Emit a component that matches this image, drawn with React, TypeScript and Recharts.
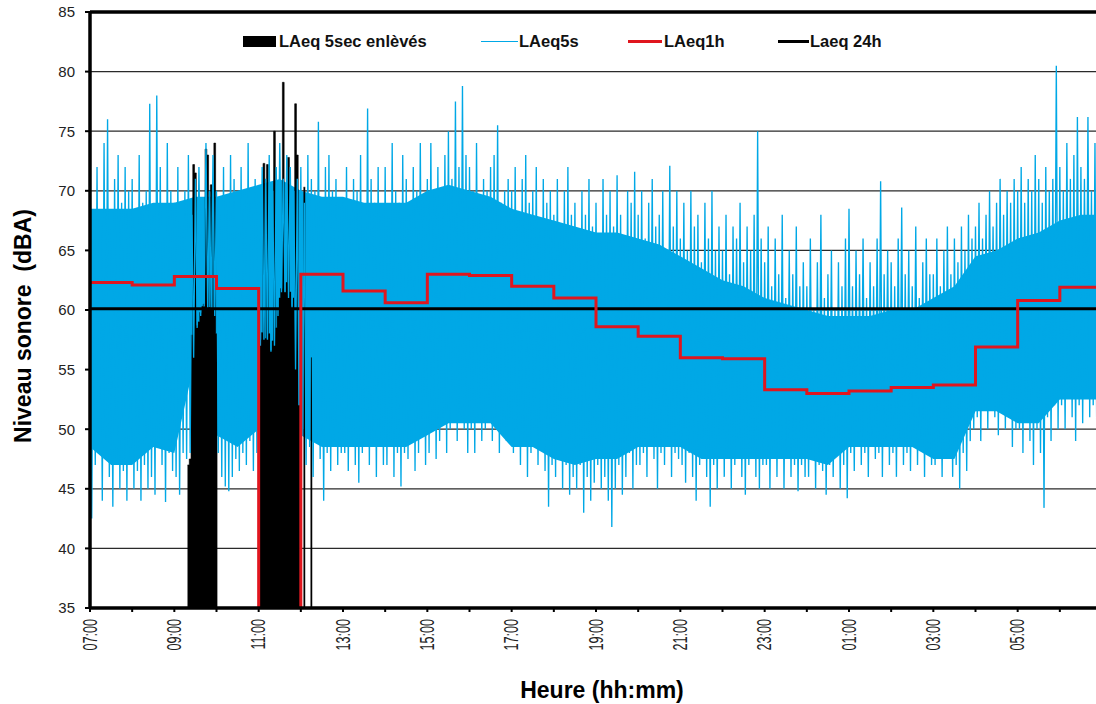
import React from "react"
import { ComposedChart, Line, Area, XAxis, YAxis, CartesianGrid, ReferenceLine } from "recharts"

const FONT = "'Liberation Sans', Arial, sans-serif"
const BLUE = "#00a8e6"
const RED = "#e0161e"

// tick labels
const hourLabels = [
  "07:00", "08:00", "09:00", "10:00", "11:00", "12:00", "13:00", "14:00", "15:00", "16:00", "17:00", "18:00",
  "19:00", "20:00", "21:00", "22:00", "23:00", "00:00", "01:00", "02:00", "03:00", "04:00", "05:00", "06:00", "07:00",
]
const dbTicks = [35, 40, 45, 50, 55, 60, 65, 70, 75, 80, 85]

// LAeq1h, one value per hour from 07:00 (11:00-12:00 removed -> drawn at 0)
const laeq1h = [62.3, 62.1, 62.8, 61.8, 0, 63.0, 61.6, 60.6, 63.0, 62.9, 62.0, 61.0, 58.6, 57.8, 56.0, 55.9, 53.3, 53.0, 53.2, 53.5, 53.7, 56.9, 60.8, 61.9]
const laeq24h = 60.1

// LAeq5s: peak value every 5 min (one row = one hour)
const las5sPeaks = [
  70, 66, 72, 68, 74, 76, 67, 71, 73, 69, 72, 70,
  71, 67, 73, 69, 70, 77.3, 68, 78, 72, 66, 74, 70,
  69, 72, 67, 70, 73, 68, 71, 72, 69, 74, 70, 73,
  70, 68, 72, 69, 73, 71, 67, 72, 70, 74, 69, 71,
  70, 72, 71, 73, 70, 72, 74, 71, 73, 72, 70, 71,
  72, 69, 73, 71, 70, 75.8, 68, 72, 73, 70, 71, 69,
  69, 72, 68, 71, 70, 73, 67, 76.9, 71, 69, 72, 68,
  72, 68, 74, 70, 69, 73, 71, 68, 72, 70, 74, 69,
  71, 74, 70, 72, 69, 73, 75, 71, 77.5, 72, 78.8, 73,
  72, 70, 74, 69, 71, 70, 72, 73, 75.5, 69, 70, 71,
  70, 72, 68, 71, 73, 69, 70, 72, 67, 71, 69, 70,
  68, 71, 67, 70, 72, 68, 69, 66, 70, 68, 71, 67,
  69, 66, 71, 68, 70, 67, 71.3, 68, 66, 70, 69, 71.6,
  68, 70, 66, 69, 71, 67, 68, 70, 65, 72.1, 67, 70,
  66, 69, 65, 70, 67, 68, 64, 69, 66, 70, 65, 67,
  65, 68, 63, 67, 66, 69, 64, 67, 65, 68, 75, 66,
  64, 67, 62, 66, 63, 68, 61, 65, 63, 67, 62, 64,
  62, 66, 60, 64, 68, 61, 63, 65, 60, 64, 62, 66,
  68.5, 62, 65, 63, 66, 61, 64, 62, 66, 70.8, 63, 65,
  64, 62, 66, 68.6, 63, 65, 62, 67, 61, 64, 66, 63,
  63, 66, 62, 65, 67, 63, 66, 64, 67, 65, 68, 66,
  67, 69, 66, 68, 70, 67, 69, 71, 68, 70, 69, 71,
  70, 72, 69, 71, 70, 73, 71, 69, 72, 70, 71, 80.5,
  72, 70, 74, 71, 73, 76.2, 72, 71, 76.2, 70, 74, 72,
]

// LAeq5s: trough value 2.5 min after each peak
const las5sTroughs = [
  42.5, 47, 49, 44, 48, 46, 43.5, 47, 45, 46.5, 44, 47,
  45, 46.5, 44, 47, 45, 46, 44.5, 49, 47, 43.9, 48, 46.5,
  46, 44.5, 48, 47.5, 48, 56, 58.5, 59.5, 60.3, 60, 60, 59.5,
  48, 46, 45.2, 44.8, 46, 47.5, 46.5, 48, 47, 49, 46.5, 48,
  57, 57.5, 57.5, 56.5, 57, 59.5, 61.5, 61.5, 61, 60, 55, 52,
  50, 47, 48.5, 46, 49, 47.5, 44, 48, 46.5, 49, 47, 48,
  48, 46.5, 49, 47, 45.5, 48, 50, 47, 49, 46, 48.5, 47,
  47, 49, 46, 48, 45.2, 48, 47.5, 49, 46.5, 48, 50, 47,
  48, 50, 47.5, 49, 51, 48, 50, 52, 49, 51, 50, 48,
  50, 48, 51, 49, 50, 52, 49, 51, 48, 50, 49, 51,
  48, 50, 47, 49, 46, 48, 50, 47, 49, 46.5, 43.5, 47,
  46, 48, 45, 47, 44.5, 46, 45, 47, 43, 46, 44, 45.5,
  47, 45, 46, 44, 41.8, 45, 47, 44.5, 46, 48, 45, 47,
  47, 48, 46, 49, 47.5, 45, 48, 47, 49, 46, 48, 47.5,
  47, 45.5, 48, 46, 44, 47, 48.5, 46, 43.5, 47, 45, 48,
  46, 48, 45, 47, 49, 46, 44.5, 47, 48, 46, 45, 47,
  47, 45, 48, 46, 47.5, 45, 48, 46, 47, 44.8, 47, 46,
  46, 48, 45, 47, 46.5, 44.5, 47, 46, 48, 45, 47, 44.2,
  48, 46.5, 49, 47, 48, 46, 49, 47.5, 48, 46, 49, 47,
  48, 46, 49, 47, 48, 46.5, 49, 47, 48.5, 46, 48, 47,
  47, 48.5, 46, 47.5, 48, 46, 47, 45, 48, 46.5, 49, 50,
  51, 49, 52, 50, 53, 51, 49.5, 52, 50, 51, 48.5, 50,
  50, 48, 51, 49, 47, 50, 48, 43.4, 51, 49, 52, 50,
  52, 50, 53, 51, 49, 52, 50.5, 53, 51, 52, 50, 53,
]

// dense core of the LAeq5s trace, every 30 min
const bandTop = [68.5, 68.5, 68.5, 69, 69, 69.5, 69.5, 70, 70.5, 71, 70, 69.5, 69.5, 69, 69, 69, 70, 70.5, 70, 69.5, 68.5, 68, 67.5, 67, 66.5, 66.5, 66, 65.5, 64.5, 63.5, 62.5, 62, 61, 60.5, 60, 59.5, 59.5, 59.5, 60, 60, 61, 62, 64.5, 65, 66, 66.5, 67.5, 68, 68]
const bandBottom = [48.5, 47, 47, 48.5, 48, 56, 49.5, 48.5, 50, 56, 49.5, 48.5, 48.5, 48.5, 48.5, 48.5, 49.5, 50.5, 50.5, 50.5, 48.5, 48.5, 47.5, 47, 47.5, 47.5, 48.5, 48.5, 48.5, 47.5, 47.5, 47.5, 47.5, 47.5, 47.5, 47, 48.5, 48.5, 48.5, 48.5, 47.5, 47.5, 51.5, 51.5, 50.5, 50.5, 52.5, 52.5, 52.5]

// LAeq 5sec removed, every 2.5 min from the start time
const removedA = [47, 47.5, 57.9, 72.2, 71.5, 58.7, 59, 59.8, 60.3, 60.5, 73.5, 73, 60.2, 70.5, 60, 74, 58]
const removedB = [57.5, 58.1, 72.3, 57.6, 72.2, 58, 56.6, 57.4, 75, 58.5, 60, 61, 61.8, 79.1, 61.5, 62.3, 72.8, 61.5, 60.3, 61, 77.3, 73, 52]
const removedC = [70.3, null, null, null, 56]
const removedSegments = [
  { start: "09:20", values: removedA },
  { start: "11:02.5", values: removedB },
  { start: "12:05", values: removedC },
]

const STEP_MIN = 2.5
const minutesFrom7 = (hhmm: string) => {
  const [h, m] = hhmm.split(":").map(Number)
  return ((h - 7 + 24) % 24) * 60 + m
}

// time axis in minutes after 07:00
const rows: { t: number; las?: number }[] = []
for (let i = 0; i <= 576; i++) {
  const k = Math.floor(i / 2)
  const las = k < las5sPeaks.length ? (i % 2 === 0 ? las5sPeaks[k] : las5sTroughs[k]) : undefined
  rows.push({ t: i * STEP_MIN, las })
}

// each removed 5 s sample drawn as a column over its own 2.5 min cell
const removedCells: { t: number; v: number | null }[] = []
removedSegments.forEach((seg) => {
  const t0 = minutesFrom7(seg.start)
  seg.values.forEach((v, j) => {
    const t = t0 + j * STEP_MIN
    if (v == null) {
      removedCells.push({ t, v: null })
      return
    }
    removedCells.push({ t: t - STEP_MIN / 2, v }, { t: t + STEP_MIN / 2, v })
  })
  removedCells.push({ t: t0 + seg.values.length * STEP_MIN, v: null })
})

const bandRows = bandTop.map((top, k) => ({ t: k * 30, band: [bandBottom[k], top] }))
const hourRows = [...laeq1h.map((v, h) => ({ t: h * 60, v })), { t: 1440, v: laeq1h[laeq1h.length - 1] }]
const avgRows = [{ t: 0, v: laeq24h }, { t: 1440, v: laeq24h }]
const hourTicks = hourLabels.map((_, i) => i * 60)

function HourTick(props: any) {
  const { x, y, payload } = props
  const h = Math.round(payload.value / 60)
  const label = hourLabels[h]
  if (h % 2 !== 0 || h >= 24 || !label) return <g />
  return (
    <text
      transform={`translate(${x},${y}) rotate(-90) scale(0.9,1.45)`}
      textAnchor="end"
      dominantBaseline="central"
      fontSize={14}
      fontFamily={FONT}
      fill="#222"
    >
      {label}
    </text>
  )
}

const legendText: React.CSSProperties = {
  position: "absolute",
  top: 32,
  fontFamily: FONT,
  fontWeight: "bold",
  fontSize: 16.5,
  lineHeight: "19px",
  color: "#111",
  whiteSpace: "nowrap",
}

export default function App() {
  return (
    <div style={{ position: "fixed", left: 0, top: 0, width: 1096, height: 704, overflow: "hidden", background: "#fff" }}>
      <ComposedChart width={1110} height={704} data={rows} margin={{ top: 12, right: 8, bottom: 0, left: 0 }}>
        <CartesianGrid vertical={false} stroke="#2a2a2a" strokeWidth={1.2} />
        <XAxis
          type="number"
          dataKey="t"
          domain={[0, 1440]}
          ticks={hourTicks}
          interval={0}
          allowDataOverflow
          height={96}
          axisLine={{ stroke: "#000", strokeWidth: 3.5 }}
          tickLine={{ stroke: "#000", strokeWidth: 2 }}
          tickSize={4}
          tickMargin={7}
          tick={<HourTick />}
        />
        <YAxis
          type="number"
          domain={[35, 85]}
          ticks={dbTicks}
          interval={0}
          allowDataOverflow
          width={90}
          axisLine={{ stroke: "#000", strokeWidth: 3.5 }}
          tickLine={{ stroke: "#000", strokeWidth: 2 }}
          tickSize={5}
          tickMargin={10}
          tick={{ fill: "#222", fontSize: 15, fontFamily: FONT }}
        />
        <ReferenceLine y={85} stroke="#000" strokeWidth={3.5} />
        <Area data={bandRows} dataKey="band" type="linear" stroke="none" fill={BLUE} fillOpacity={1} dot={false} activeDot={false} isAnimationActive={false} />
        <Line dataKey="las" stroke={BLUE} strokeWidth={1.35} dot={false} activeDot={false} isAnimationActive={false} />
        <Area data={removedCells} dataKey="v" type="linear" stroke="#000" strokeWidth={0.6} fill="#000" fillOpacity={1} baseValue={35} dot={false} activeDot={false} isAnimationActive={false} />
        <Line data={avgRows} dataKey="v" stroke="#000" strokeWidth={3} dot={false} activeDot={false} isAnimationActive={false} />
        <Line data={hourRows} dataKey="v" type="stepAfter" stroke={RED} strokeWidth={3} dot={false} activeDot={false} isAnimationActive={false} />
      </ComposedChart>

      <div style={{ position: "absolute", left: 243, top: 36, width: 33, height: 11, background: "#000" }} />
      <div style={{ ...legendText, left: 279 }}>LAeq 5sec enlèvés</div>
      <div style={{ position: "absolute", left: 481, top: 40.5, width: 37, height: 1.5, background: BLUE }} />
      <div style={{ ...legendText, left: 519 }}>LAeq5s</div>
      <div style={{ position: "absolute", left: 628, top: 39.5, width: 34, height: 3.5, background: RED }} />
      <div style={{ ...legendText, left: 664 }}>LAeq1h</div>
      <div style={{ position: "absolute", left: 778, top: 39.5, width: 31, height: 3.5, background: "#000" }} />
      <div style={{ ...legendText, left: 810 }}>Laeq 24h</div>

      <div
        style={{
          position: "absolute",
          left: 602,
          top: 679,
          transform: "translateX(-50%)",
          fontFamily: FONT,
          fontWeight: "bold",
          fontSize: 23,
          lineHeight: 1,
          color: "#000",
          whiteSpace: "nowrap",
        }}
      >
        Heure (hh:mm)
      </div>
      <div
        style={{
          position: "absolute",
          left: 23,
          top: 326,
          transform: "translate(-50%, -50%) rotate(-90deg)",
          fontFamily: FONT,
          fontWeight: "bold",
          fontSize: 23,
          lineHeight: 1,
          color: "#000",
          whiteSpace: "pre",
        }}
      >
        {"Niveau sonore  (dBA)"}
      </div>
    </div>
  )
}
